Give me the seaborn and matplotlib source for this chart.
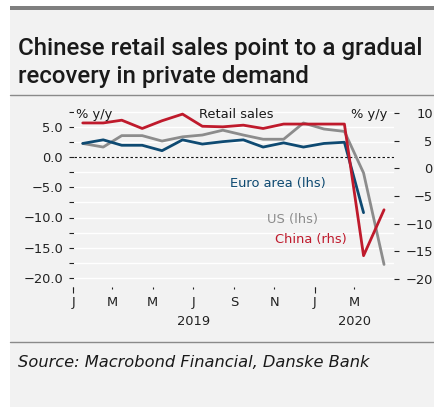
import numpy as np
import pandas as pd
import matplotlib
matplotlib.use("Agg")
import matplotlib.pyplot as plt
import matplotlib.dates as mdates
import matplotlib.transforms as mtrans
from matplotlib.patches import Rectangle
from matplotlib.lines import Line2D
from matplotlib.ticker import FuncFormatter, FixedLocator
import seaborn as sns

# ---------------- data ----------------
months = pd.date_range("2019-01-01", periods=16, freq="MS") + pd.Timedelta(days=14)
euro_area = [2.3, 2.9, 2.0, 2.0, 1.1, 2.9, 2.2, 2.6, 2.9, 1.7, 2.4, 1.7, 2.3, 2.5, -9.2, np.nan]
us = [2.3, 1.7, 3.6, 3.6, 2.7, 3.4, 3.7, 4.5, 3.7, 3.0, 3.0, 5.7, 4.7, 4.3, -2.6, -17.8]
china = [8.2, 8.2, 8.7, 7.2, 8.6, 9.8, 7.6, 7.5, 7.8, 7.2, 8.0, 8.0, 8.0, 8.0, -15.8, -7.5]
left_ticks = [5.0, 0.0, -5.0, -10.0, -15.0, -20.0]
left_minor = [7.5, 2.5, -2.5, -7.5, -12.5, -17.5]
right_ticks = [10, 5, 0, -5, -10, -15, -20]
years = ["2019", "2020"]

title_lines = ["Chinese retail sales point to a gradual", "recovery in private demand"]
source = "Source: Macrobond Financial, Danske Bank"

C_BLUE = "#0e4a72"
C_RED = "#bf1a2c"
C_GREY = "#8c8c8c"
BG = "#f2f2f2"
TXT = "#1a1a1a"
FS = 9.4

sns.set_style("white")
plt.rcParams["font.family"] = ["DejaVu Sans"]
plt.rcParams["axes.unicode_minus"] = True

W, H = 434, 407
fig = plt.figure(figsize=(W / 100, H / 100), dpi=100)
fig.patch.set_facecolor("white")

def fx(px):
    return px / W

def fy(py):
    return 1 - py / H

# background panel + decorations
fig.patches.append(Rectangle((fx(10), 0), 1 - fx(10), fy(6), transform=fig.transFigure,
                             facecolor=BG, edgecolor="none", zorder=-5))
fig.patches.append(Rectangle((fx(10), fy(10)), 1 - fx(10), fy(6) - fy(10), transform=fig.transFigure,
                             facecolor="#7f7f7f", edgecolor="none", zorder=1))
for yy in (95, 342):
    fig.lines.append(Line2D([fx(10), 1], [fy(yy), fy(yy)], transform=fig.transFigure,
                            color="#8a8a8a", lw=1.0, zorder=1))

for i, line in enumerate(title_lines):
    fig.text(fx(18), fy(55 + 28 * i), line, fontsize=17.3, fontweight="medium", color=TXT,
             va="baseline", ha="left", family=["Roboto", "DejaVu Sans"])
fig.text(fx(18), fy(367), source, fontsize=11.7, style="italic", color=TXT,
         va="baseline", ha="left")

# axes geometry
ax_left, ax_right, ax_top, ax_bot = 73.5, 394.5, 110, 287
ax = fig.add_axes([fx(ax_left), fy(ax_bot), (ax_right - ax_left) / W, (ax_bot - ax_top) / H])
ax.set_facecolor("none")
ax2 = ax.twinx()
ax2.set_facecolor("none")

# lines
sns.lineplot(x=months, y=us, ax=ax, color=C_GREY, lw=2.0, zorder=3)
sns.lineplot(x=months, y=euro_area, ax=ax, color=C_BLUE, lw=2.0, zorder=4)
sns.lineplot(x=months, y=china, ax=ax2, color=C_RED, lw=2.0, zorder=3)

# left axis
ax.set_ylim((157.3 - ax_bot) / 6.02, (157.3 - ax_top) / 6.02)
ax.yaxis.set_major_locator(FixedLocator(left_ticks))
ax.yaxis.set_major_formatter(FuncFormatter(lambda v, p: f"{v:.1f}".replace("-", "\u2212")))
ax.yaxis.set_minor_locator(FixedLocator(left_minor))
ax.tick_params(axis="y", which="both", direction="out", length=3.5, width=0.8, pad=4,
               labelsize=FS, colors="#222222", left=True)
for v in left_ticks + left_minor:
    ax.axhline(v, color="white", lw=1.0, zorder=1)
ax.axhline(0, color="#111111", lw=0.8, ls=(0, (2.2, 2)), zorder=2)

# right axis
ax2.set_ylim((168.3 - ax_bot) / 5.53, (168.3 - ax_top) / 5.53)
ax2.yaxis.set_major_locator(FixedLocator(right_ticks))
ax2.yaxis.set_major_formatter(FuncFormatter(lambda v, p: f"{v:.0f}".replace("-", "\u2212")))
ax2.tick_params(axis="y", which="both", direction="out", length=3.5, width=0.8, pad=24,
                labelsize=FS, colors="#222222", right=True)
for lab in ax2.get_yticklabels():
    lab.set_horizontalalignment("right")

# x axis
ax.set_xlim(pd.Timestamp("2019-01-01"), pd.Timestamp("2020-04-30 20:00"))
ax.xaxis.set_major_locator(mdates.MonthLocator(bymonth=[1, 3, 5, 7, 9, 11]))
ax.xaxis.set_major_formatter(FuncFormatter(lambda v, p: mdates.num2date(v).strftime("%b")[0]))
ax.xaxis.set_minor_locator(mdates.MonthLocator(bymonth=[1]))
ax.xaxis.remove_overlapping_locs = False
ax.tick_params(axis="x", which="major", direction="out", length=1.5, width=0.8, pad=5.0,
               labelsize=FS, colors="#222222", bottom=True)
ax.tick_params(axis="x", which="minor", direction="out", length=4.5, width=0.8, bottom=True,
               colors="#222222")
ax.set_xlabel("")
ax.set_ylabel("")
ax2.set_ylabel("")
for a in (ax, ax2):
    for s in a.spines.values():
        s.set_visible(False)

trans = mtrans.blended_transform_factory(ax.transData, fig.transFigure)
ax.text(pd.Timestamp("2019-07-01"), fy(325), years[0], transform=trans, ha="center",
        va="baseline", fontsize=FS, color="#222222")
ax.text(pd.Timestamp("2020-03-01"), fy(325), years[1], transform=trans, ha="center",
        va="baseline", fontsize=FS, color="#222222")

# in-chart labels
fig.text(fx(76), fy(118), "% y/y", fontsize=FS, color=TXT, va="baseline")
fig.text(fx(387), fy(118), "% y/y", fontsize=FS, color=TXT, va="baseline", ha="right")
fig.text(fx(236), fy(118), "Retail sales", fontsize=FS, color=TXT, va="baseline", ha="center")
fig.text(fx(230), fy(187), "Euro area (lhs)", fontsize=FS, color=C_BLUE, va="baseline")
fig.text(fx(267), fy(223), "US (lhs)", fontsize=FS, color=C_GREY, va="baseline")
fig.text(fx(275), fy(243), "China (rhs)", fontsize=FS, color=C_RED, va="baseline")

fig.savefig("out.png", dpi=100, facecolor="white")
